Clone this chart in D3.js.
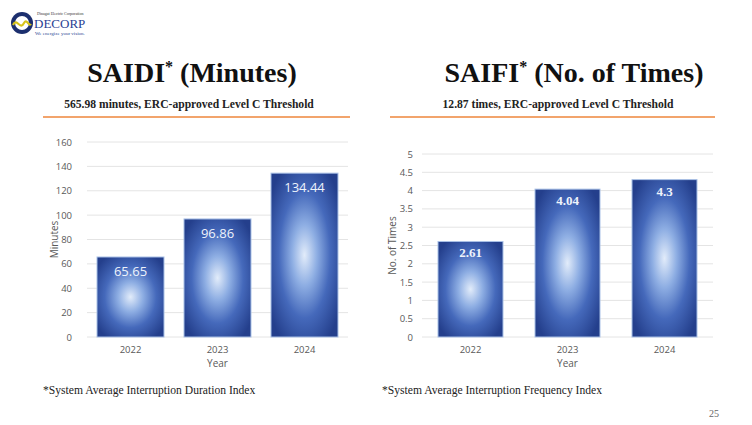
<!DOCTYPE html>
<html>
<head>
<meta charset="utf-8">
<script src="https://cdn.jsdelivr.net/npm/d3@7"></script>
<style>
  html, body { margin: 0; padding: 0; background: #fff; }
  svg { display: block; }
</style>
</head>
<body>
<div id="chart"></div>
<script>
const years = ['2022', '2023', '2024'];
const saidiValues = [65.65, 96.86, 134.44];
const saifiValues = [2.61, 4.04, 4.3];
const saidiTicks = [0, 20, 40, 60, 80, 100, 120, 140, 160];
const saifiTicks = [0, 0.5, 1, 1.5, 2, 2.5, 3, 3.5, 4, 4.5, 5];

const width = 752;
const height = 425;
const serif = "'Liberation Serif', 'DejaVu Serif', serif";
const sans = "'Open Sans', 'Liberation Sans', sans-serif";

const svg = d3.select('#chart')
  .append('svg')
  .attr('width', width)
  .attr('height', height)
  .attr('viewBox', [0, 0, width, height]);

const defs = svg.append('defs');
const grad = defs.append('radialGradient')
  .attr('id', 'bar-gradient')
  .attr('cx', '50%')
  .attr('cy', '50%')
  .attr('r', '62%');
grad.append('stop').attr('offset', '0%').attr('stop-color', '#e2ecfa');
grad.append('stop').attr('offset', '30%').attr('stop-color', '#8eaee3');
grad.append('stop').attr('offset', '62%').attr('stop-color', '#4569bb');
grad.append('stop').attr('offset', '100%').attr('stop-color', '#243f8c');

// logo
const logo = svg.append('g').attr('transform', 'translate(22,23)');
logo.append('circle').attr('r', 11).attr('fill', '#1c2f6e');
logo.append('circle').attr('r', 7).attr('fill', '#fff');
logo.append('path')
  .attr('d', 'M-9,2 C-5,-6 -2,8 2,0 C5,-5 7,4 9,1')
  .attr('fill', 'none')
  .attr('stroke', '#d6c21a')
  .attr('stroke-width', 2.2);
svg.append('text').attr('x', 37).attr('y', 15)
  .attr('font-family', serif).attr('font-size', 4).attr('fill', '#333')
  .text('Dinagat Electric Corporation');
svg.append('text').attr('x', 34).attr('y', 28)
  .attr('font-family', serif).attr('font-size', 13).attr('fill', '#2a3f94')
  .text('DECORP');
svg.append('text').attr('x', 35).attr('y', 35)
  .attr('font-family', serif).attr('font-size', 5).attr('fill', '#2a3f94')
  .text('We energize your vision.');

function drawPanel(cfg) {
  const g = svg.append('g');

  const title = g.append('text')
    .attr('x', cfg.titleX)
    .attr('y', 82)
    .attr('text-anchor', 'middle')
    .attr('font-family', serif)
    .attr('font-weight', 'bold')
    .attr('font-size', 28)
    .attr('fill', '#111');
  title.append('tspan').text(cfg.titleA);
  title.append('tspan').attr('font-size', 16).attr('dy', -10).text('*');
  title.append('tspan').attr('dy', 10).text(' ' + cfg.titleB);

  g.append('text')
    .attr('x', cfg.subX)
    .attr('y', 108)
    .attr('text-anchor', 'middle')
    .attr('font-family', serif)
    .attr('font-weight', 'bold')
    .attr('font-size', 11.6)
    .attr('fill', '#222')
    .text(cfg.subtitle);

  g.append('line')
    .attr('x1', cfg.ruleX[0]).attr('x2', cfg.ruleX[1])
    .attr('y1', 117).attr('y2', 117)
    .attr('stroke', '#f2a46c')
    .attr('stroke-width', 2.2);

  const x = d3.scaleBand(years, cfg.xRange).paddingInner(cfg.pad).paddingOuter(cfg.pad / 2);
  const y = d3.scaleLinear(cfg.domain, [337, cfg.yTop]);

  g.append('g')
    .selectAll('line')
    .data(cfg.ticks)
    .join('line')
    .attr('x1', cfg.xRange[0]).attr('x2', cfg.xRange[1])
    .attr('y1', (d) => y(d)).attr('y2', (d) => y(d))
    .attr('stroke', '#e4e4e4')
    .attr('stroke-width', 1);

  const yAxis = g.append('g')
    .attr('transform', `translate(${cfg.xRange[0]},0)`)
    .call(d3.axisLeft(y).tickValues(cfg.ticks).tickFormat(d3.format('~g')).tickSize(0).tickPadding(cfg.tickPad));
  yAxis.select('.domain').remove();
  yAxis.selectAll('text')
    .attr('font-family', sans).attr('font-size', 9.5).attr('fill', '#595959');

  const xAxis = g.append('g')
    .attr('transform', 'translate(0,337)')
    .call(d3.axisBottom(x).tickSize(0).tickPadding(9));
  xAxis.select('.domain').remove();
  xAxis.selectAll('text')
    .attr('font-family', sans).attr('font-size', 9.5).attr('fill', '#595959');

  g.append('text')
    .attr('x', (cfg.xRange[0] + cfg.xRange[1]) / 2)
    .attr('y', 367)
    .attr('text-anchor', 'middle')
    .attr('font-family', sans).attr('font-size', 10).attr('fill', '#595959')
    .text('Year');

  g.append('text')
    .attr('transform', `translate(${cfg.yTitleX},${(337 + cfg.yTop) / 2}) rotate(-90)`)
    .attr('text-anchor', 'middle')
    .attr('font-family', sans).attr('font-size', 10).attr('fill', '#595959')
    .text(cfg.yTitle);

  g.append('g')
    .selectAll('rect')
    .data(cfg.values)
    .join('rect')
    .attr('x', (d, i) => x(years[i]))
    .attr('y', (d) => y(d))
    .attr('width', x.bandwidth())
    .attr('height', (d) => y(0) - y(d))
    .attr('fill', 'url(#bar-gradient)')
    .attr('stroke', '#a9c0e6')
    .attr('stroke-width', 1);

  g.append('g')
    .selectAll('text')
    .data(cfg.values)
    .join('text')
    .attr('x', (d, i) => x(years[i]) + x.bandwidth() / 2)
    .attr('y', (d) => y(d) + cfg.labelDy)
    .attr('text-anchor', 'middle')
    .attr('font-family', cfg.labelFont)
    .attr('font-weight', cfg.labelWeight)
    .attr('font-size', cfg.labelSize)
    .attr('fill', '#eef3fb')
    .text((d) => d);

  g.append('text')
    .attr('x', cfg.noteX)
    .attr('y', 394)
    .attr('font-family', serif).attr('font-size', 11.6).attr('fill', '#222')
    .text(cfg.note);
}

drawPanel({
  titleA: 'SAIDI', titleB: '(Minutes)', titleX: 192,
  subtitle: '565.98 minutes, ERC-approved Level C Threshold', subX: 189,
  ruleX: [43, 350],
  xRange: [87, 348], pad: 0.23,
  domain: [0, 160], yTop: 142, ticks: saidiTicks, tickPad: 15,
  yTitle: 'Minutes', yTitleX: 58,
  values: saidiValues,
  labelDy: 19, labelFont: sans, labelWeight: 'normal', labelSize: 13,
  note: '*System Average Interruption Duration Index', noteX: 43,
});

drawPanel({
  titleA: 'SAIFI', titleB: '(No. of Times)', titleX: 574,
  subtitle: '12.87 times, ERC-approved Level C Threshold', subX: 558,
  ruleX: [390, 715],
  xRange: [422, 713], pad: 0.33,
  domain: [0, 5], yTop: 154, ticks: saifiTicks, tickPad: 9,
  yTitle: 'No. of Times', yTitleX: 396,
  values: saifiValues,
  labelDy: 16, labelFont: serif, labelWeight: 'bold', labelSize: 13,
  note: '*System Average Interruption Frequency Index', noteX: 382,
});

svg.append('text')
  .attr('x', 719).attr('y', 417)
  .attr('text-anchor', 'end')
  .attr('font-family', serif).attr('font-size', 10).attr('fill', '#666')
  .text('25');
</script>
</body>
</html>
